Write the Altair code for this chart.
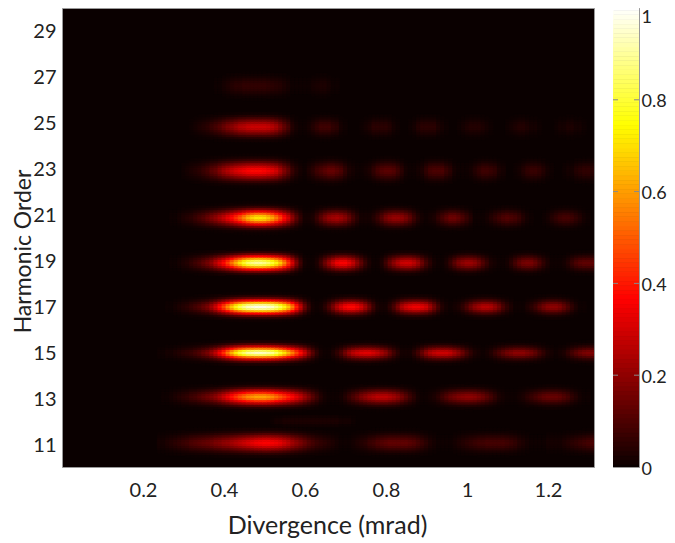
import altair as alt
import pandas as pd

# Intensity read along the centre line of each harmonic, one value per 0.01 mrad from 0.24 mrad
x_start = 0.24
x_step = 0.01
row_step = 0.1

H11 = [.02,.02,.03,.04,.05,.06,.07,.08,.1,.11,.12,.13,.14,.15,.17,.18,.2,.21,.23,.25,.27,.29,.31,.33,.35,.36,.37,.37,.36,.35,.33,.3,.27,.23,.2,.17,.14,.11,.09,.07,.06,.05,.04,.03,.02,.01,.01,.01,.02,.03,.04,.05,.07,.08,.1,.11,.12,.13,.13,.13,.13,.13,.12,.11,.09,.07,.05,.03,.02,.01,.01,.01,.01,.02,.03,.04,.05,.06,.07,.08,.08,.09,.09,.09,.09,.09,.08,.07,.06,.04,.03,.02,.01,.01,.01,.01,.02,.02,.02,.02,.03,.04,.05,.06,.07,.08,.09,.1,.1]
H12 = [0,0,0,0,0,0,0,0,0,0,0,0,0,0,0,0,0,0,0,0,0,0,0,0,0,0,0,0,.01,.02,.02,.03,.03,.03,.03,.03,.03,.03,.03,.03,.03,.03,.03,.03,.03,.02,.02,.02,.01]
H13 = [0,.01,.01,.02,.03,.04,.05,.06,.08,.09,.11,.13,.15,.17,.2,.24,.29,.34,.4,.45,.5,.54,.58,.6,.62,.62,.62,.6,.58,.54,.5,.46,.42,.38,.33,.28,.22,.17,.12,.08,.04,.02,.01,.01,.01,.02,.04,.07,.1,.13,.17,.2,.23,.25,.27,.27,.27,.25,.23,.2,.16,.12,.08,.05,.02,.01,.01,.02,.03,.05,.08,.11,.14,.16,.18,.19,.2,.2,.19,.17,.15,.12,.09,.06,.03,.02,.01,.01,.01,.02,.03,.05,.07,.09,.11,.13,.14,.14,.14,.13,.11,.09,.06,.04,.02,.01,.01,0,0]
H15 = [.01,.01,.02,.02,.03,.04,.05,.06,.07,.09,.11,.14,.17,.22,.28,.36,.45,.55,.65,.74,.82,.88,.93,.95,.97,.97,.96,.94,.92,.87,.8,.73,.65,.57,.48,.39,.3,.2,.12,.06,.02,.01,.01,.03,.06,.1,.16,.22,.27,.3,.32,.33,.33,.31,.28,.24,.2,.14,.09,.05,.02,.02,.02,.05,.09,.14,.2,.25,.28,.3,.3,.3,.28,.24,.2,.15,.1,.06,.03,.02,.01,.02,.04,.07,.1,.13,.16,.18,.2,.2,.2,.18,.16,.13,.09,.06,.03,.02,.01,.02,.03,.06,.09,.12,.15,.17,.18,.18,.18]
H17 = [0,0,.01,.01,.02,.03,.04,.05,.07,.09,.11,.14,.17,.23,.3,.39,.48,.58,.68,.77,.85,.91,.96,.98,1,1,1,.98,.96,.91,.85,.77,.68,.56,.42,.28,.15,.07,.02,.01,.02,.05,.1,.17,.25,.31,.36,.38,.38,.35,.3,.23,.15,.08,.03,.02,.02,.05,.1,.17,.25,.3,.33,.35,.35,.33,.3,.23,.16,.09,.04,.02,.01,.02,.03,.06,.1,.15,.2,.23,.26,.26,.25,.21,.16,.1,.06,.03,.01,.01,.01,.03,.05,.08,.12,.16,.19,.2,.2,.18,.14,.1,.06,.03,.01,.01,0,0,0]
H19 = [0,0,0,.01,.01,.02,.03,.04,.06,.08,.1,.13,.16,.2,.26,.32,.38,.46,.55,.64,.72,.8,.86,.9,.92,.92,.9,.87,.82,.76,.68,.57,.45,.31,.18,.08,.02,.01,.01,.03,.08,.15,.22,.29,.35,.37,.37,.33,.28,.2,.13,.07,.03,.01,.01,.03,.08,.14,.2,.25,.29,.3,.3,.27,.22,.15,.09,.05,.02,.01,.01,.03,.07,.12,.17,.2,.22,.22,.2,.16,.11,.07,.03,.02,.01,.01,.02,.05,.09,.13,.16,.17,.17,.14,.1,.06,.03,.01,.01,.01,.02,.04,.07,.1,.12,.13,.13,.13,.12]
H21 = [0,0,0,.01,.01,.02,.03,.04,.05,.07,.09,.11,.14,.17,.2,.24,.28,.33,.38,.44,.5,.57,.64,.69,.72,.72,.71,.67,.62,.55,.47,.38,.3,.2,.12,.06,.02,.02,.03,.07,.12,.17,.21,.23,.24,.22,.19,.14,.09,.05,.02,.02,.02,.04,.07,.11,.16,.19,.21,.21,.2,.17,.13,.08,.04,.02,.01,.02,.03,.06,.09,.12,.15,.15,.13,.1,.07,.04,.01,.01,.01,.02,.04,.06,.08,.1,.11,.1,.09,.07,.04,.02,.01,0,0,.01,.02,.04,.06,.08,.09,.09,.08,.06,.04,.02,.01,0,0]
H23 = [0,0,0,0,0,0,.01,.02,.03,.04,.05,.07,.09,.12,.14,.18,.22,.25,.28,.31,.33,.35,.37,.38,.38,.38,.37,.35,.33,.3,.24,.18,.13,.07,.04,.02,.01,.03,.05,.08,.1,.12,.14,.14,.12,.1,.06,.03,.02,.01,.01,.02,.03,.06,.09,.11,.12,.12,.11,.08,.05,.02,.01,.01,.02,.03,.06,.09,.1,.1,.1,.07,.05,.02,.01,.01,.01,.02,.04,.06,.08,.08,.07,.06,.03,.02,0,0,.01,.02,.04,.06,.07,.07,.06,.04,.02,.01,0,0,.01,.02,.02,.04,.05,.06,.06,.05,.04]
H25 = [0,0,0,0,0,0,0,0,.01,.02,.03,.04,.05,.07,.09,.11,.14,.17,.19,.22,.25,.26,.28,.29,.29,.29,.29,.28,.26,.23,.18,.13,.09,.04,.02,.01,.01,.02,.04,.06,.08,.08,.08,.06,.05,.02,.01,0,0,0,.01,.02,.03,.05,.05,.05,.05,.04,.02,.01,0,0,.01,.02,.04,.05,.05,.05,.05,.03,.02,.01,0,0,.01,.02,.03,.04,.04,.04,.03,.02,.01,0,0,0,.01,.02,.03,.04,.04,.03,.02,.02,.01,0,0,0,.01,.02,.02,.03,.03,.02,.02,.01,0,0,0]
H27 = [0,0,0,0,0,0,0,0,0,0,0,0,0,0,.01,.01,.02,.03,.04,.05,.05,.06,.06,.06,.06,.06,.06,.055,.05,.045,.04,.03,.02,.01,.01,.01,.01,.01,.02,.025,.03,.03,.02,.01,.01]

# Where each band sits on the order axis, and how it fades away from its centre line (steps of 0.1 order)
row_centres = [11.05, 12.0, 13.05, 14.97, 16.97, 18.89, 20.85, 22.9, 24.81, 26.6]
profiles = [H11, H12, H13, H15, H17, H19, H21, H23, H25, H27]
falloffs = [
    [1, .93, .75, .52, .3, .14, .05, .01],
    [1, .8, .4, .1],
    [1, .9, .68, .42, .2, .07, .02],
    [1, .87, .58, .3, .12, .03],
    [1, .9, .65, .36, .15, .05, .01],
    [1, .9, .68, .4, .18, .06, .01],
    [1, .92, .72, .46, .24, .1, .03, .01],
    [1, .93, .76, .54, .33, .17, .07, .02],
    [1, .93, .76, .54, .32, .15, .05, .01],
    [1, .95, .8, .58, .36, .18, .07, .02],
]

x_ticks = [0.2, 0.4, 0.6, 0.8, 1, 1.2]
y_ticks = [11, 13, 15, 17, 19, 21, 23, 25, 27, 29]
bar_ticks = [0, 0.2, 0.4, 0.6, 0.8, 1]
bar_levels = [i / 100 for i in range(101)]

hot_stops = [0, 0.365, 0.746, 1]
hot_colors = ["#0a0000", "#ff0000", "#ffff00", "#ffffff"]

FONT = "Lato"
colour = alt.Scale(domain=hot_stops, range=hot_colors, clamp=True, interpolate="rgb")

rows = []
for centre, prof, fall in zip(row_centres, profiles, falloffs):
    for k, peak in enumerate(prof):
        if peak == 0:
            continue
        x0 = x_start + k * x_step - x_step / 2
        for j, f in enumerate(fall):
            for sign in ([1, -1] if j else [1]):
                v = peak * f
                if v < 0.004:
                    continue
                y0 = centre + sign * j * row_step
                rows.append(dict(x=x0, x2=x0 + x_step,
                                 y=y0 - row_step / 2, y2=y0 + row_step / 2, v=v))
heat = pd.DataFrame(rows)

main = alt.Chart(heat).mark_rect(clip=True, strokeWidth=0.7).encode(
    x=alt.X("x:Q", scale=alt.Scale(domain=[0, 1.3136], nice=False),
            axis=alt.Axis(values=x_ticks, grid=False, ticks=False, domain=False,
                          labelExpr="format(datum.value, '.1~f')",
                          labelFontSize=20, labelPadding=13, labelColor="#222",
                          title="Divergence (mrad)", titleFontSize=25, titleFontWeight="normal",
                          titleColor="#222", titleY=58, titleBaseline="middle", titleX=265)),
    x2="x2:Q",
    y=alt.Y("y:Q", scale=alt.Scale(domain=[10, 30], nice=False),
            axis=alt.Axis(values=y_ticks, grid=False, ticks=False, domain=False, format="d",
                          labelFontSize=20, labelPadding=6, labelOffset=1, labelColor="#222",
                          title="Harmonic Order", titleFontSize=23, titleFontWeight="normal",
                          titleColor="#222", titleX=-39, titleY=243, titleBaseline="middle")),
    y2="y2:Q",
    color=alt.Color("v:Q", scale=colour, legend=None),
    stroke=alt.Color("v:Q", scale=colour, legend=None),
).properties(width=532, height=459)

bar_axis = alt.Axis(values=bar_ticks, orient="right", grid=False, ticks=False, domain=False,
                    title=None, labelFontSize=18, labelPadding=2, labelColor="#222",
                    labelExpr="format(datum.value, '.1~f')",
                    labelOffset={"condition": {"test": "datum.value == 1", "value": 9}, "value": 2})
bar_scale = alt.Scale(domain=[0, 1], nice=False)
bar_df = pd.DataFrame({"v": bar_levels, "y": [v - 0.005 for v in bar_levels], "y2": [v + 0.005 for v in bar_levels]})
bar_rect = alt.Chart(bar_df).mark_rect(clip=True, strokeWidth=0.7).encode(
    x=alt.value(0), x2=alt.value(26),
    y=alt.Y("y:Q", scale=bar_scale, axis=bar_axis),
    y2="y2:Q",
    color=alt.Color("v:Q", scale=colour, legend=None),
    stroke=alt.Color("v:Q", scale=colour, legend=None),
)
tick_df = pd.DataFrame({"t": bar_ticks[1:-1]})
tick_l = alt.Chart(tick_df).mark_rule(color="#888", strokeWidth=1).encode(
    y=alt.Y("t:Q", scale=bar_scale, axis=bar_axis), x=alt.value(0), x2=alt.value(5))
tick_r = alt.Chart(tick_df).mark_rule(color="#888", strokeWidth=1).encode(
    y=alt.Y("t:Q", scale=bar_scale, axis=bar_axis), x=alt.value(21), x2=alt.value(26))
bar = alt.layer(bar_rect, tick_l, tick_r).properties(width=26, height=459)

chart = alt.hconcat(main, bar, spacing=17).properties(
    autosize=alt.AutoSizeParams(type="none"),
    padding={"left": 54, "top": 0, "right": 605, "bottom": 75},
).configure_view(stroke="#999", fill="#0a0000", strokeWidth=1).configure_axis(
    labelFont=FONT, titleFont=FONT
)

chart.save("out.html", embed_options={"renderer": "svg", "actions": False})
